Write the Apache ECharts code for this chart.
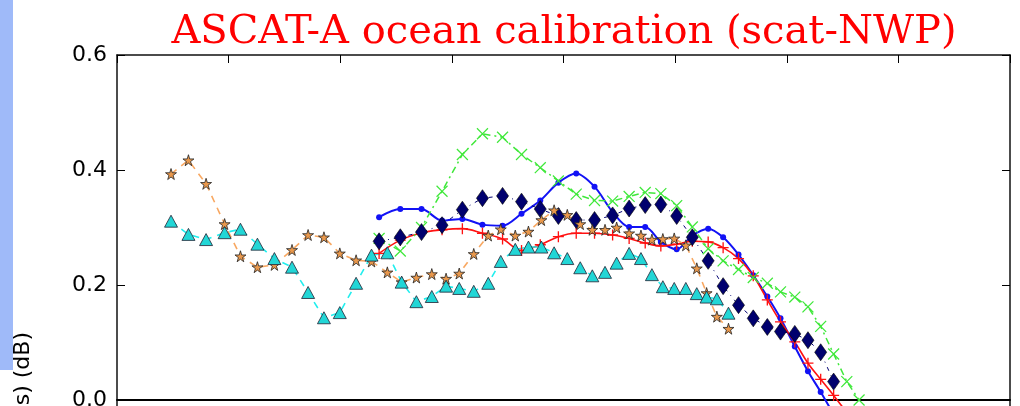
<!DOCTYPE html>
<html>
<head>
<meta charset="utf-8">
<script src="https://cdn.jsdelivr.net/npm/echarts@6/dist/echarts.min.js"></script>
<style>
html, body { margin: 0; padding: 0; background: #fff; }
#chart { width: 1020px; height: 406px; }
</style>
</head>
<body>
<div id="chart"></div>
<script>
// x positions (incidence angle, deg) of the two sample grids
const angleMid = [22.42, 23.20, 23.99, 24.82, 25.53, 26.29, 27.05, 27.84, 28.56, 29.27,
  29.98, 30.71, 31.40, 32.11, 32.75, 33.41, 34.10, 34.74, 35.33, 35.98,
  36.63, 37.19, 37.84, 38.43, 39.01, 39.58, 40.17, 40.75, 41.29, 41.86,
  42.38, 42.94, 43.47, 43.96, 44.45, 44.96, 45.48, 45.97, 46.41, 46.87, 47.39];
const angleSide = [31.74, 32.69, 33.64, 34.56, 35.47, 36.37, 37.27, 38.12, 38.96, 39.77,
  40.57, 41.39, 42.20, 42.94, 43.66, 44.36, 45.07, 45.77, 46.48, 47.15,
  47.84, 48.50, 49.13, 49.72, 50.36, 50.95, 51.52, 52.10, 52.69, 53.24];

// mean difference (dB)
const starVals = [0.393, 0.417, 0.376, 0.306, 0.250, 0.231, 0.235, 0.261, 0.287, 0.283,
  0.255, 0.243, 0.241, 0.222, 0.205, 0.213, 0.219, 0.211, 0.220, 0.254,
  0.286, 0.297, 0.286, 0.293, 0.313, 0.330, 0.322, 0.306, 0.296, 0.296,
  0.300, 0.290, 0.286, 0.279, 0.280, 0.281, 0.269, 0.229, 0.186, 0.145, 0.124];
const triVals = [0.311, 0.288, 0.279, 0.291, 0.297, 0.271, 0.246, 0.231, 0.187, 0.143,
  0.152, 0.203, 0.252, 0.256, 0.205, 0.171, 0.180, 0.198, 0.194, 0.189,
  0.203, 0.241, 0.262, 0.266, 0.266, 0.256, 0.246, 0.230, 0.216, 0.222,
  0.238, 0.255, 0.246, 0.218, 0.197, 0.194, 0.194, 0.185, 0.179, 0.176, 0.151];
const diaVals = [0.276, 0.283, 0.292, 0.304, 0.331, 0.351, 0.355, 0.345, 0.332, 0.320,
  0.313, 0.313, 0.321, 0.333, 0.339, 0.340, 0.320, 0.283, 0.242, 0.198,
  0.165, 0.142, 0.127, 0.119, 0.115, 0.104, 0.083, 0.032];
const blueVals = [0.318, 0.332, 0.332, 0.312, 0.315, 0.305, 0.303, 0.324, 0.347, 0.378,
  0.394, 0.371, 0.327, 0.301, 0.301, 0.275, 0.262, 0.286, 0.298, 0.283,
  0.253, 0.217, 0.180, 0.142, 0.093, 0.050, 0.014, -0.025];
const redVals = [0.255, 0.278, 0.291, 0.296, 0.298, 0.290, 0.280, 0.260, 0.270, 0.284,
  0.290, 0.290, 0.287, 0.281, 0.273, 0.268, 0.271, 0.276, 0.275, 0.265,
  0.246, 0.216, 0.174, 0.136, 0.101, 0.064, 0.036, 0.008, -0.022];
const greenVals = [0.281, 0.259, 0.300, 0.363, 0.427, 0.463, 0.457, 0.427, 0.404, 0.381,
  0.358, 0.347, 0.346, 0.354, 0.361, 0.359, 0.338, 0.301, 0.263, 0.242,
  0.227, 0.213, 0.203, 0.188, 0.179, 0.162, 0.128, 0.080, 0.032, 0.000];

const yTicks = [-0.2, 0.0, 0.2, 0.4, 0.6];

function pairs(xs, ys) {
  return ys.map((v, i) => [xs[i], v]);
}

const starPath = 'path://M50,0L61,35L98,35L68,57L79,91L50,70L21,91L32,57L2,35L39,35Z';
const plusPath = 'path://M4.4,0H5.6V4.4H10V5.6H5.6V10H4.4V5.6H0V4.4H4.4Z';
const thinPlus = 'path://M4.6,0H5.4V4.6H10V5.4H5.4V10H4.6V5.4H0V4.6H4.6Z';

const chart = echarts.init(document.getElementById('chart'));
const option = {
  animation: false,
  title: {
    text: 'ASCAT-A ocean calibration (scat-NWP)',
    left: 559,
    top: 8,
    textAlign: 'center',
    textStyle: { fontFamily: 'DejaVu Serif', fontSize: 40, fontWeight: 'normal', color: '#ff0000' }
  },
  graphic: [
    { type: 'rect', shape: { x: 0, y: 0, width: 13, height: 370 }, style: { fill: '#9fbaf9' } },
    {
      type: 'text', x: 23, y: 332, rotation: Math.PI / 2,
      style: {
        text: 'Mean(obs - NWP s) (dB)', font: '22px "DejaVu Sans"', fill: '#000',
        textAlign: 'right', textVerticalAlign: 'middle'
      }
    }
  ],
  grid: { left: 117, top: 55, width: 893, height: 460, containLabel: false, outerBoundsMode: 'none' },
  xAxis: [
    {
      type: 'value', min: 20, max: 60, interval: 5, position: 'bottom',
      axisLine: { onZero: true, lineStyle: { color: '#000', width: 2 } },
      axisTick: { show: false }, axisLabel: { show: false }, splitLine: { show: false }
    },
    {
      type: 'value', min: 20, max: 60, interval: 5, position: 'top',
      axisLine: { onZero: false, lineStyle: { color: '#111', width: 1.5 } },
      axisTick: { inside: true, length: 8, lineStyle: { color: '#000' } },
      axisLabel: { show: false }, splitLine: { show: false }
    }
  ],
  yAxis: [
    {
      type: 'value', min: yTicks[0], max: yTicks[yTicks.length - 1], interval: 0.2, position: 'left',
      axisLine: { show: true, onZero: false, lineStyle: { color: '#111', width: 1.5 } },
      axisTick: { inside: true, length: 8, lineStyle: { color: '#000' } },
      axisLabel: {
        margin: 10, color: '#000', fontFamily: 'DejaVu Sans', fontSize: 22,
        formatter: v => v.toFixed(1)
      },
      splitLine: { show: false }
    },
    {
      type: 'value', min: yTicks[0], max: yTicks[yTicks.length - 1], interval: 0.2, position: 'right',
      axisLine: { show: true, onZero: false, lineStyle: { color: '#111', width: 1.5 } },
      axisTick: { inside: true, length: 8, lineStyle: { color: '#000' } },
      axisLabel: { show: false }, splitLine: { show: false }
    }
  ],
  series: [
    {
      type: 'line', data: pairs(angleSide, blueVals), smooth: 0.3,
      symbol: 'circle', symbolSize: 6,
      lineStyle: { color: '#1212f5', width: 2 },
      itemStyle: { color: '#1212f5' }
    },
    {
      type: 'line', data: pairs(angleSide, redVals), smooth: 0.35,
      symbol: plusPath, symbolSize: 11,
      lineStyle: { color: '#ff1111', width: 1.6 },
      itemStyle: { color: '#ff1111' }
    },
    {
      type: 'line', data: pairs(angleSide, greenVals),
      symbol: thinPlus, symbolSize: 15.5, symbolRotate: 45,
      lineStyle: { color: '#3fe83a', width: 1.5, type: [7, 4, 2, 4] },
      itemStyle: { color: '#3fe83a' }
    },
    {
      type: 'line', data: pairs(angleSide, diaVals),
      symbol: 'diamond', symbolSize: [12, 17],
      lineStyle: { color: '#000070', width: 1, type: [4, 5, 1, 5] },
      itemStyle: { color: '#00006e', borderColor: '#000', borderWidth: 0.6 }
    },
    {
      type: 'line', data: pairs(angleMid, starVals),
      symbol: starPath, symbolSize: 11,
      lineStyle: { color: '#f8a862', width: 1.6, type: [7, 6] },
      itemStyle: { color: '#e9984c', borderColor: '#222', borderWidth: 0.8 }
    },
    {
      type: 'line', data: pairs(angleMid, triVals),
      symbol: 'triangle', symbolSize: [13, 12],
      lineStyle: { color: '#22eeee', width: 1.6, type: [7, 6] },
      itemStyle: { color: '#22d6d6', borderColor: '#223', borderWidth: 0.8 }
    }
  ]
};
chart.setOption(option);
</script>
</body>
</html>
